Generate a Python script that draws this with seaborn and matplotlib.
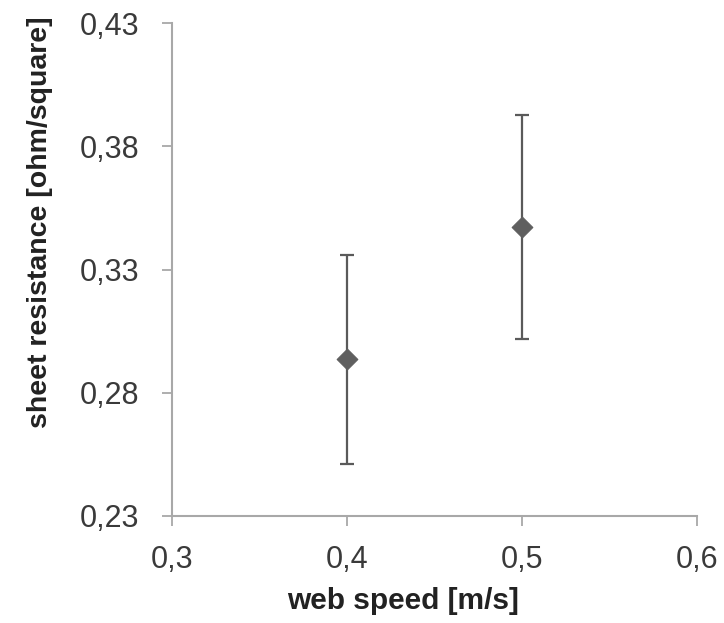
import pandas as pd
import numpy as np
import matplotlib
matplotlib.use("Agg")
import matplotlib.pyplot as plt
import seaborn as sns
from matplotlib.ticker import FuncFormatter

sns.set_style("white")
plt.rcParams["font.family"] = ["Liberation Sans", "DejaVu Sans"]

# values
web_speed = [0.4, 0.5]
resistance = [0.2935, 0.3472]
err = [0.0425, 0.0455]
x_ticks = [0.3, 0.4, 0.5, 0.6]
y_ticks = [0.23, 0.28, 0.33, 0.38, 0.43]

df = pd.DataFrame({"web speed": web_speed, "resistance": resistance, "err": err})

fig = plt.figure(figsize=(7.24, 6.23), dpi=100)
ax = fig.add_axes([0.2376, 0.1718, 0.725, 0.7912])

ax.errorbar(df["web speed"], df["resistance"], yerr=df["err"], fmt="none",
            ecolor="#5a5a5a", elinewidth=1.6, capsize=5, capthick=1.6, zorder=2)
sns.scatterplot(data=df, x="web speed", y="resistance", marker="D", s=110,
                color="#5f5f5f", edgecolor="#5f5f5f", ax=ax, zorder=3)

ax.set_xlim(0.3, 0.6)
ax.set_ylim(0.23, 0.43)
ax.set_xticks(x_ticks)
ax.set_yticks(y_ticks)
comma = lambda fmt: FuncFormatter(lambda v, p: (fmt % v).replace(".", ","))
ax.xaxis.set_major_formatter(comma("%.1f"))
ax.yaxis.set_major_formatter(comma("%.2f"))

sns.despine(ax=ax)
for s in ["left", "bottom"]:
    ax.spines[s].set_color("#a8a8a8")
    ax.spines[s].set_linewidth(1.5)
ax.tick_params(axis="both", direction="out", length=7, width=1.3, color="#a8a8a8",
               labelsize=22, labelcolor="#3a3a3a", bottom=True, left=True)
ax.tick_params(axis="x", pad=14)
ax.tick_params(axis="y", pad=16.5)

ax.set_xlabel("web speed [m/s]", fontsize=21.5, fontweight="bold", color="#222222")
ax.set_ylabel("sheet resistance [ohm/square]", fontsize=20.5, fontweight="bold", color="#222222")
ax.xaxis.set_label_coords(0.44, -0.144)
ax.yaxis.set_label_coords(-0.226, 0.596)

fig.savefig("out.png", dpi=100)
